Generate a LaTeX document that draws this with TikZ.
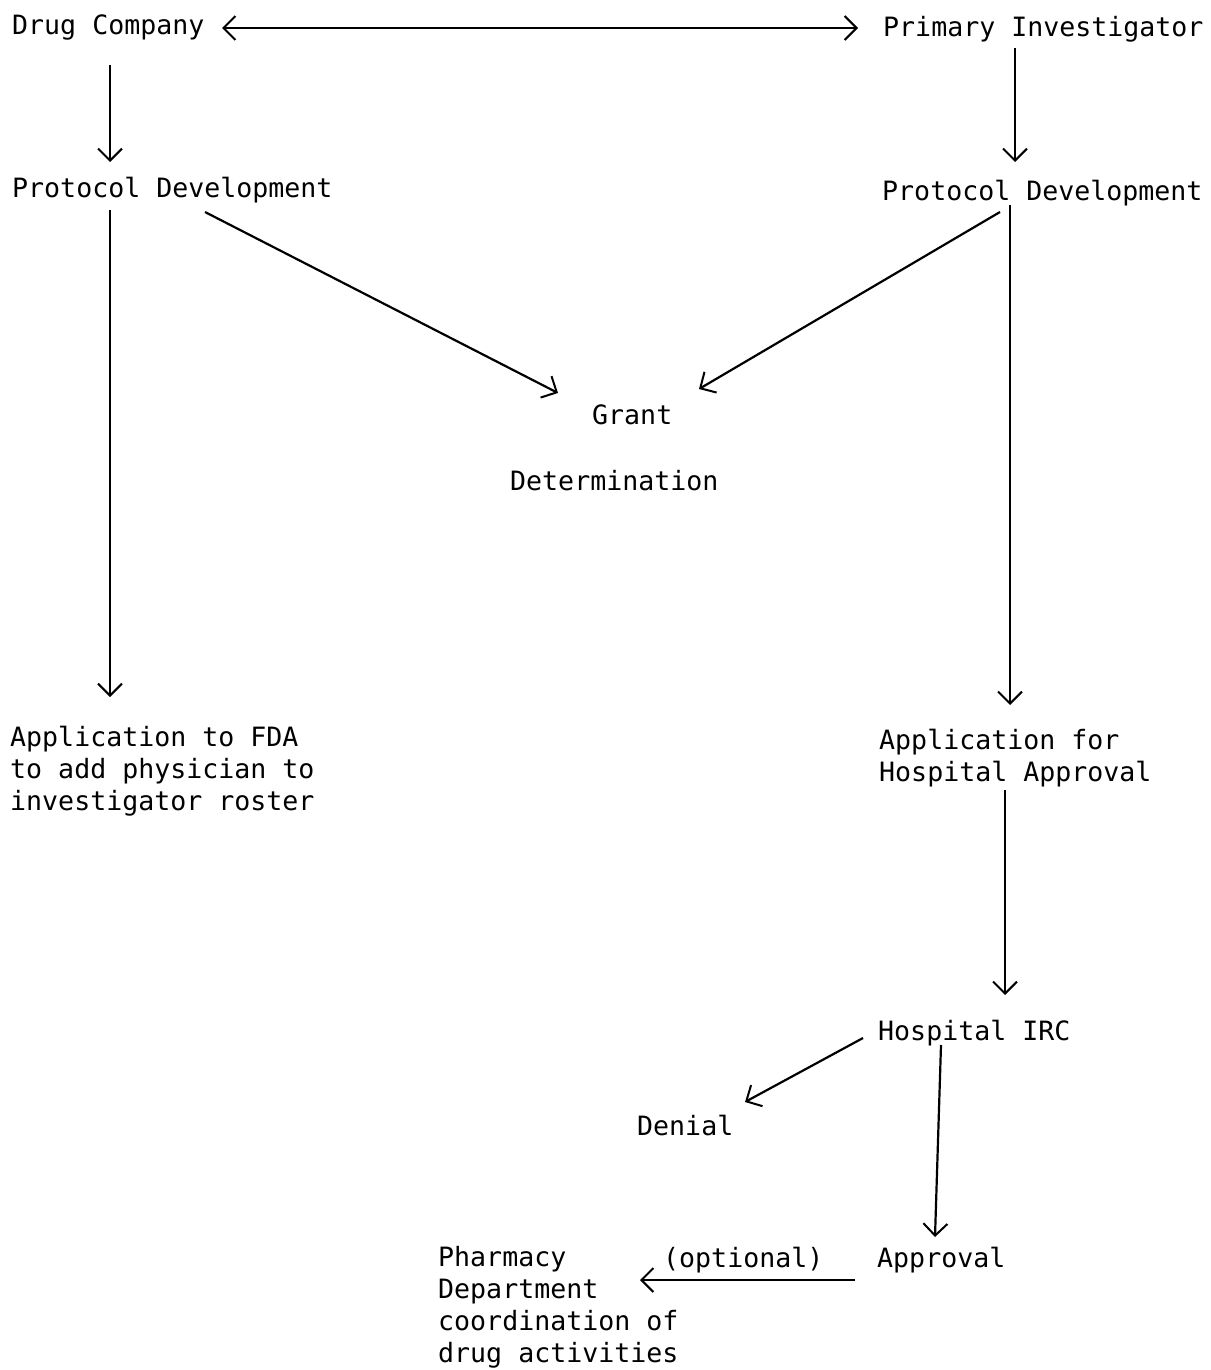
\documentclass[tikz,border=0pt]{standalone}
\usepackage{fontspec}
\newfontfamily\typewriter{DejaVu Sans Mono}
\usetikzlibrary{arrows.meta}
\begin{document}
\begin{tikzpicture}[x=1pt,y=-1pt,
  lbl/.style={anchor=base west,inner sep=0pt,align=left,
    font=\typewriter\fontsize{26.6}{32}\selectfont},
  arr/.style={line width=2.2pt,-{Straight Barb[length=12pt,width=24pt,line width=2pt]}},
  darr/.style={line width=2.2pt,{Straight Barb[length=12pt,width=24pt,line width=2pt]}-{Straight Barb[length=12pt,width=24pt,line width=2pt]}}]
\useasboundingbox[fill=white] (0,0) rectangle (1210,1370);
\node[lbl] (dc) at (12,35) {Drug Company};
\node[lbl] (pi) at (883,37) {Primary Investigator};
\node[lbl] (pdl) at (12,197) {Protocol Development};
\node[lbl] (pdr) at (882,200) {Protocol Development};
\node[lbl] (gd) at (510,490) {\hspace*{82pt}Grant\\[34pt]Determination};
\node[lbl] (fda) at (10,810) {Application to FDA\\to add physician to\\investigator roster};
\node[lbl] (hosp) at (879,781) {Application for\\Hospital Approval};
\node[lbl] (irc) at (878,1040) {Hospital IRC};
\node[lbl] (den) at (637,1135) {Denial};
\node[lbl] (appr) at (877,1267) {Approval};
\node[lbl] (opt) at (663,1267) {(optional)};
\node[lbl] (ph) at (438,1362) {Pharmacy\\Department\\coordination of\\drug activities};
% connectors
\draw[darr] ([shift={(210,-7)}]dc.base west) -- ([shift={(-25,-9)}]pi.base west);
\draw[arr] ([shift={(98,30)}]dc.base west) -- ([shift={(98,-35)}]pdl.base west);
\draw[arr] ([shift={(132,11)}]pi.base west) -- ([shift={(133,-38)}]pdr.base west);
\draw[arr] ([shift={(98,13)}]pdl.base west) -- ([shift={(100,-113)}]fda.base west);
\draw[arr] ([shift={(193,15)}]pdl.base west) -- ([shift={(48,-97)}]gd.base west);
\draw[arr] ([shift={(118,12)}]pdr.base west) -- ([shift={(189,-101)}]gd.base west);
\draw[arr] ([shift={(128,5)}]pdr.base west) -- ([shift={(131,-76)}]hosp.base west);
\draw[arr] ([shift={(126,9)}]hosp.base west) -- ([shift={(127,-45)}]irc.base west);
\draw[arr] ([shift={(-15,-2)}]irc.base west) -- ([shift={(108,-33)}]den.base west);
\draw[arr] ([shift={(63,5)}]irc.base west) -- ([shift={(58,-30)}]appr.base west);
\draw[arr] ([shift={(-22,13)}]appr.base west) -- ([shift={(202,-82)}]ph.base west);
\end{tikzpicture}
\end{document}
